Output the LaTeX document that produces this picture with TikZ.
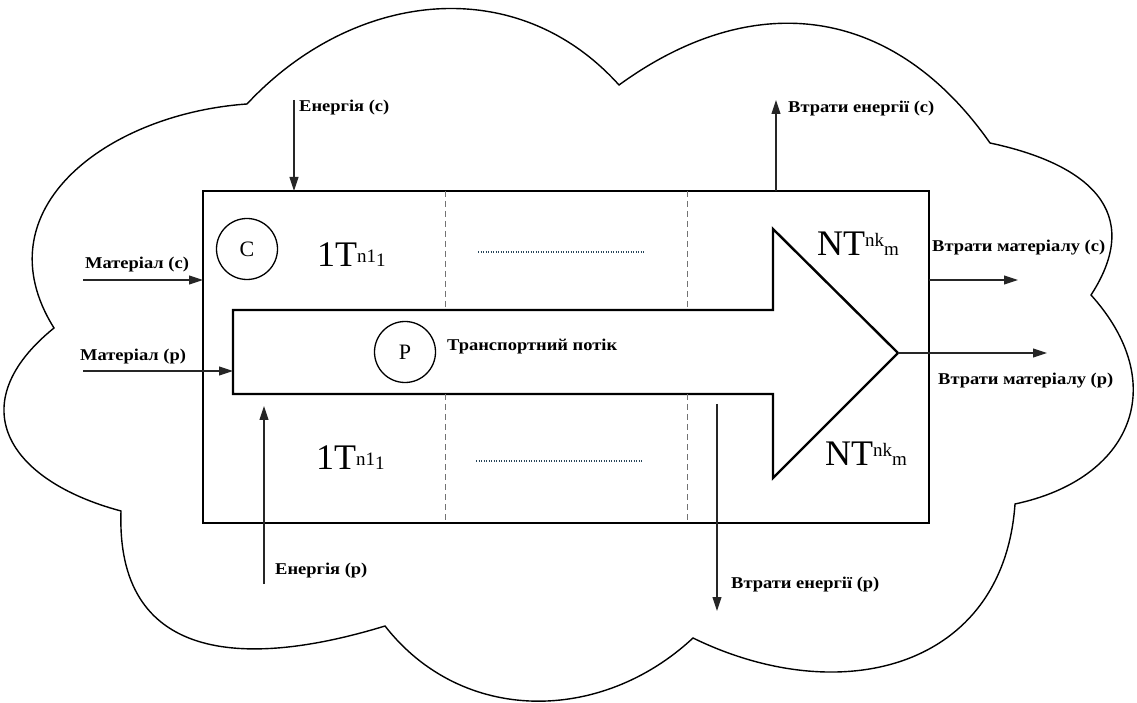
\documentclass[tikz,border=0pt]{standalone}
\usepackage{fontspec}
\usepackage{graphicx}
\setmainfont{Liberation Serif}
\usetikzlibrary{arrows.meta}
\definecolor{dotcol}{RGB}{40,70,90}
\newcommand\wide[1]{\scalebox{1.12}[1]{#1}}
\newcommand\bigT[3]{{\fontsize{36}{40}\selectfont #1}\raisebox{#3}{\fontsize{19}{20}\selectfont #2}}
\tikzset{
  frame/.style={draw, line width=2.4pt, line join=miter},
  cloudline/.style={draw, line width=1.4pt},
  flow/.style={draw=black!85, line width=1.1pt, -{Triangle[length=14pt,width=9pt]}},
  sep/.style={draw=black!55, line width=1pt, dash pattern=on 6pt off 4pt},
  dots/.style={draw=dotcol, line width=1.3pt, dash pattern=on 1.2pt off 1.3pt},
  lbl/.style={anchor=west, inner sep=0pt, font=\fontsize{16.5}{18}\selectfont\bfseries},
  tag/.style={draw, circle, line width=1.3pt, minimum size=61pt, inner sep=0pt, font=\fontsize{22}{24}\selectfont},
  cell/.style={anchor=base west, inner sep=0pt},
}
\begin{document}
\begin{tikzpicture}[x=1pt, y=1pt]
\useasboundingbox (0,0) rectangle (1137,702);

% surrounding environment (cloud)
\draw[cloudline] (247,598) to[out=47,in=132,looseness=1.06] (619,617)
  to[out=36,in=125,looseness=1.14] (990,559)
  to[out=-12,in=57,looseness=1.4] (1091,407)
  to[out=-48,in=12,looseness=1.38] (1015,198)
  to[out=-94,in=-26,looseness=1.21] (693,64)
  to[out=223,in=-52,looseness=1.04] (385,76)
  to[out=197,in=268,looseness=1.33] (121,191)
  to[out=165,in=219,looseness=1.57] (54,374)
  to[out=122,in=184,looseness=1.21] cycle;

% system boundary
\node[frame, rectangle, minimum width=726pt, minimum height=332pt, outer sep=0pt] (sys) at (566,345) {};

% transport flow arrow
\coordinate (sl) at (233,392);
\coordinate (tip) at (898,349);
\draw[frame] (233,392) -- (773,392) -- (773,473) -- (tip) -- (773,224) -- (773,308) -- (233,308) -- cycle;
\coordinate (shaftL) at (233,331);

% stage separators
\draw[sep] (445,511) -- (445,392);
\draw[sep] (445,308) -- (445,179);
\draw[sep] (687,511) -- (687,392);
\draw[sep] (687,308) -- (687,179);

% stages
\node[tag] (c) at (247,453) {C};
\node[tag] (p) at (405,350) {P};
\node[cell] (t1a) at (317,435) {\bigT{1T}{n1}{4pt}\fontsize{19}{20}\selectfont 1};
\node[cell] (t1b) at (316,233) {\bigT{1T}{n1}{4pt}\fontsize{19}{20}\selectfont 1};
\node[cell] (tna) at (817,446) {\bigT{NT}{nk}{9pt}\fontsize{19}{20}\selectfont m};
\node[cell] (tnb) at (825,237) {\bigT{NT}{nk}{9pt}\fontsize{19}{20}\selectfont m};
\draw[dots] (478,450) -- (645,450);
\draw[dots] (476,241) -- (642,241);
\node[lbl] (tf) at (447,355) {\wide{Транспортний потік}};

% inputs
\coordinate (ecs) at (294,602);
\draw[flow] (ecs) -- (ecs |- sys.north);
\node[lbl] at (299,594) {\wide{Енергія (с)}};

\coordinate (mcs) at (83,422);
\draw[flow] (mcs) -- (mcs -| sys.west);
\node[lbl] at (85,437) {\wide{Матеріал (с)}};

\coordinate (mps) at (83,331);
\draw[flow] (mps) -- (shaftL);
\node[lbl] at (80,345) {\wide{Матеріал (р)}};

\coordinate (eps) at (264,118);
\coordinate (ept) at (264,296);
\draw[flow] (eps) -- (ept);
\node[lbl] at (275,131) {\wide{Енергія (р)}};

% losses
\coordinate (lec) at (776,602);
\draw[flow] (lec |- sys.north) -- (lec);
\node[lbl] at (788,593) {\wide{Втрати енергії (с)}};

\coordinate (lmc) at (1018,422);
\draw[flow] (lmc -| sys.east) -- (lmc);
\node[lbl] at (932,454) {\wide{Втрати матеріалу (с)}};

\coordinate (lmp) at (1047,349);
\draw[flow] (tip) -- (lmp);
\node[lbl] at (938,321) {\wide{Втрати матеріалу (р)}};

\coordinate (leps) at (717,298);
\coordinate (lep) at (717,91);
\draw[flow] (leps) -- (lep);
\node[lbl] at (731,117) {\wide{Втрати енергії (р)}};
\end{tikzpicture}
\end{document}
